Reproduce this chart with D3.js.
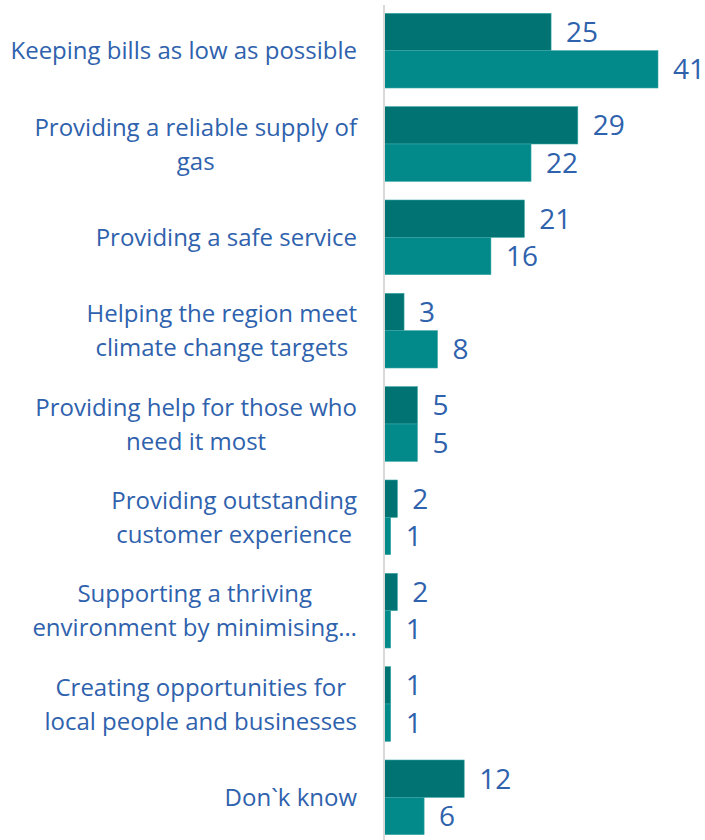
<!DOCTYPE html>
<html>
<head>
<meta charset="utf-8">
<script src="https://cdn.jsdelivr.net/npm/d3@7"></script>
<style>
  html, body { margin: 0; padding: 0; background: #ffffff; }
  svg { display: block; }
  text { font-family: "Open Sans", Lato, sans-serif; font-weight: 400; }
</style>
</head>
<body>
<svg id="chart" width="705" height="840"></svg>
<script>
// Category labels (line breaks where the label wraps)
const categories = [
  ["Keeping bills as low as possible"],
  ["Providing a reliable supply of", "gas"],
  ["Providing a safe service"],
  ["Helping the region meet", "climate change targets"],
  ["Providing help for those who", "need it most"],
  ["Providing outstanding", "customer experience"],
  ["Supporting a thriving", "environment by minimising…"],
  ["Creating opportunities for", "local people and businesses"],
  ["Don`k know"]
];
// Percentages for the two groups of respondents
const seriesA = [25, 29, 21, 3, 5, 2, 2, 1, 12];
const seriesB = [41, 22, 16, 8, 5, 1, 1, 1, 6];
const seriesKeys = ["A", "B"];

const W = 705, H = 840;
const axisX = 384;
const svg = d3.select("#chart");

const rows = categories.map((c, i) => ({ idx: i, label: c, A: seriesA[i], B: seriesB[i] }));

const y = d3.scaleBand()
  .domain(rows.map(d => d.idx))
  .range([4, 844])
  .paddingInner(0.2)
  .paddingOuter(0.1);

const ySub = d3.scaleBand()
  .domain(seriesKeys)
  .range([0, y.bandwidth()])
  .padding(0);

const x = d3.scaleLinear()
  .domain([0, 41])
  .range([axisX, 658]);

const colors = { A: "#017373", B: "#028a8a" };
const textColor = "#2f62ad";

// Bars
const groups = svg.append("g").selectAll("g")
  .data(rows)
  .join("g")
  .attr("transform", d => `translate(0,${y(d.idx)})`);

groups.selectAll("rect")
  .data(d => seriesKeys.map(k => ({ key: k, value: d[k] })))
  .join("rect")
  .attr("x", x(0))
  .attr("y", d => ySub(d.key))
  .attr("width", d => x(d.value) - x(0))
  .attr("height", ySub.bandwidth())
  .attr("fill", d => colors[d.key])
  .attr("stroke", "#3aa5a5")
  .attr("stroke-width", 0.6);

// Value labels
groups.selectAll("text.val")
  .data(d => seriesKeys.map(k => ({ key: k, value: d[k] })))
  .join("text")
  .attr("class", "val")
  .attr("x", d => x(d.value) + 15)
  .attr("y", d => ySub(d.key) + ySub.bandwidth() / 2)
  .attr("dy", "0.36em")
  .attr("fill", textColor)
  .attr("font-size", 28)
  .text(d => d.value);

// Vertical axis line
svg.append("line")
  .attr("x1", axisX).attr("x2", axisX)
  .attr("y1", 5).attr("y2", H)
  .attr("stroke", "#d9d9d9")
  .attr("stroke-width", 2);

// Category labels: block right-aligned at the axis, lines centred within the block
const labelRight = 357;
const lineH = 34;
const catG = svg.append("g");
rows.forEach(d => {
  const cy = y(d.idx) + y.bandwidth() / 2;
  const t = catG.append("text")
    .attr("fill", textColor)
    .attr("font-size", 24);
  const n = d.label.length;
  const spans = d.label.map((line, j) =>
    t.append("tspan")
      .attr("y", cy + (j - (n - 1) / 2) * lineH)
      .attr("dy", "0.36em")
      .text(line));
  const widths = spans.map(s => s.node().getComputedTextLength());
  const wMax = d3.max(widths);
  const cx = labelRight - wMax / 2;
  spans.forEach(s => s.attr("x", cx).attr("text-anchor", "middle"));
});
</script>
</body>
</html>
